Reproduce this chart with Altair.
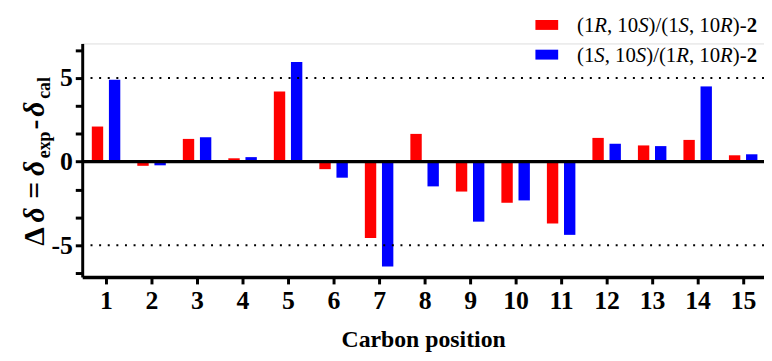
import altair as alt
import pandas as pd

positions = list(range(1, 16))
red_vals = [2.1, -0.25, 1.36, 0.2, 4.2, -0.45, -4.57, 1.66, -1.79, -2.46, -3.7, 1.42, 0.97, 1.3, 0.38]
blue_vals = [4.9, -0.22, 1.46, 0.27, 5.96, -0.96, -6.27, -1.48, -3.59, -2.32, -4.38, 1.07, 0.93, 4.5, 0.44]
series_names = ["(1R, 10S)/(1S, 10R)-2", "(1S, 10S)/(1R, 10R)-2"]
colors = ["#ff0000", "#0000ff"]
y_ticks = [-20 / 3, -5, -10 / 3, -5 / 3, 0, 5 / 3, 10 / 3, 5, 20 / 3]
ref_lines = [-5, 5]

SERIF = "Liberation Serif"

df = pd.DataFrame({
    "pos": positions * 2,
    "value": red_vals + blue_vals,
    "series": [series_names[0]] * 15 + [series_names[1]] * 15,
})

W, H = 689, 236
PAD_L, PAD_T = 75, 34

xscale = alt.Scale(domain=[0.586, 15.35], nice=False, zero=False)
yscale = alt.Scale(domain=[-6.9, 7.07], nice=False, zero=False)

y_axis = alt.Axis(values=y_ticks, title=None,
                  labelExpr="abs(datum.value) < 0.01 ? '0' : abs(datum.value - 5) < 0.01 ? '5' : abs(datum.value + 5) < 0.01 ? '-5' : ''",
                  labelPadding=3, domainWidth=3)

bars = alt.Chart(df).transform_calculate(
    xp=f"datum.series == '{series_names[0]}' ? datum.pos - 0.187 : datum.pos + 0.189"
).mark_bar(size=11.5).encode(
    x=alt.X("xp:Q", scale=xscale,
            axis=alt.Axis(values=positions, title="Carbon position", format="d",
                          labelPadding=4, domainWidth=3.5, titlePadding=14)),
    y=alt.Y("value:Q", scale=yscale, axis=y_axis),
    color=alt.Color("series:N", scale=alt.Scale(domain=series_names, range=colors), legend=None),
)

zero = alt.Chart(pd.DataFrame({"y": [0]})).mark_rule(color="black", strokeWidth=3.5).encode(
    y=alt.Y("y:Q", scale=yscale, axis=y_axis))
dots = alt.Chart(pd.DataFrame({"y": ref_lines})).mark_rule(
    color="black", strokeWidth=2, strokeDash=[2, 6.7]).encode(y=alt.Y("y:Q", scale=yscale, axis=y_axis))

layers = [bars, dots, zero]

# custom legend (mixed upright / italic / bold label text)
TW = {"(": .333, ")": .333, "1": .5, "0": .5, ",": .25, " ": .25, "/": .278, "-": .333,
      "R": .611, "S": .5, "2": .5}


def rich_text(segments, x0, y0, size):
    out = []
    x = x0
    for txt, style, weight in segments:
        out.append(alt.Chart(pd.DataFrame({"t": [txt]})).mark_text(
            align="left", baseline="alphabetic", font=SERIF, fontSize=size,
            fontStyle=style, fontWeight=weight, color="black").encode(
            x=alt.value(x), y=alt.value(y0), text="t:N"))
        x += sum(TW[c] for c in txt) * size
    return out


def label_segments(a, b, c, d):
    return [("(1", "normal", "normal"), (a, "italic", "normal"), (", 10", "normal", "normal"),
            (b, "italic", "normal"), (")/(1", "normal", "normal"), (c, "italic", "normal"),
            (", 10", "normal", "normal"), (d, "italic", "normal"), (")-", "normal", "normal"),
            ("2", "normal", "bold")]


LEG_X = 583 - 8 - PAD_L  # text start, relative to plot
for i, (segs, yrect, ybase) in enumerate([
        (label_segments("R", "S", "S", "R"), -23.7, -11.3),
        (label_segments("S", "S", "R", "R"), 6.3, 18.7)]):
    layers.append(alt.Chart(pd.DataFrame({"s": [series_names[i]]})).mark_rect(color=colors[i]).encode(
        x=alt.value(LEG_X - 42), x2=alt.value(LEG_X - 19), y=alt.value(yrect), y2=alt.value(yrect + 10)))
    layers += rich_text(segs, LEG_X, ybase, 21)

# y-axis title pieces (rotated)
ytitle = [
    ("Δ", 246.5, 30, "normal", -39),
    ("δ", 223, 30, "italic", -39),
    ("=", 199, 30, "normal", -39),
    ("δ", 176, 30, "italic", -39),
    ("exp", 158, 18, "normal", -33),
    ("-", 129, 30, "normal", -39),
    ("δ", 116, 30, "italic", -39),
    ("cal", 98, 18, "normal", -33),
]
for txt, yabs, size, style, xrel in ytitle:
    layers.append(alt.Chart(pd.DataFrame({"t": [txt]})).mark_text(
        align="left", baseline="alphabetic", angle=270, font=SERIF, fontSize=size,
        fontStyle=style, fontWeight="bold", color="black").encode(
        x=alt.value(xrel), y=alt.value(yabs - 8 - PAD_T), text="t:N"))

chart = alt.layer(*layers).properties(
    width=W, height=H,
    autosize=alt.AutoSizeParams(type="none"),
    padding={"left": PAD_L, "top": PAD_T, "right": 0, "bottom": 76},
).configure_view(stroke=None).configure(background="white").configure_axis(
    grid=False, labelFont=SERIF, labelFontSize=26, labelFontWeight="bold",
    labelColor="black", tickSize=7, tickWidth=3, tickColor="black",
    domainColor="black", titleFont=SERIF, titleFontSize=24, titleFontWeight="bold",
    titleColor="black", labelFlush=False, labelOverlap=False)

chart.save("out.html", embed_options={"renderer": "svg", "actions": False})
